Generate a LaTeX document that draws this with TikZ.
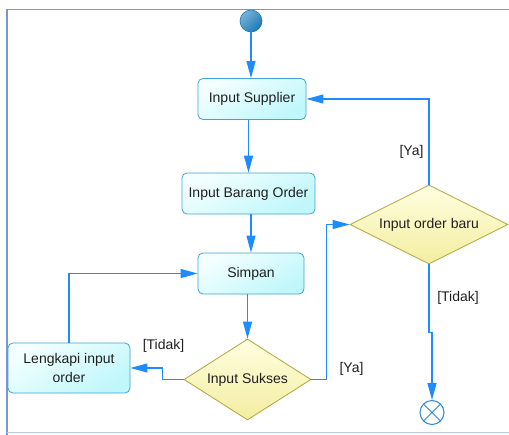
\documentclass[tikz,border=0pt]{standalone}
\usepackage{fontspec}
\setmainfont{Liberation Sans}
\usetikzlibrary{arrows.meta,shapes.geometric,calc}
\definecolor{arr}{HTML}{1E8CFF}
\definecolor{boxline}{HTML}{3FA3D6}
\definecolor{boxfillA}{HTML}{F4FFFF}
\definecolor{boxfillB}{HTML}{BFF7FB}
\definecolor{dline}{HTML}{B0A53A}
\definecolor{dfillA}{HTML}{FFFFE0}
\definecolor{dfillB}{HTML}{F3EDA0}
\definecolor{frame}{HTML}{7A96CC}
\definecolor{startA}{HTML}{7AB3D8}
\definecolor{startB}{HTML}{1A78B6}
\definecolor{endline}{HTML}{2A8AD0}
\definecolor{txt}{HTML}{202020}
\tikzset{
  actbox/.style={draw=boxline, line width=0.8pt, rounded corners=5pt,
    top color=boxfillA, bottom color=boxfillB, shading angle=30,
    minimum height=41pt, inner sep=2pt, text=txt, font=\fontsize{14}{19}\selectfont, align=center},
  decis/.style={draw=dline, line width=0.8pt, diamond, aspect=1.6,
    top color=dfillA, bottom color=dfillB, inner sep=0pt, text=txt,
    font=\fontsize{14}{17}\selectfont},
  flow/.style={draw=arr, line width=1.2pt, -{Triangle[length=17pt,width=9pt]}},
  guard/.style={font=\fontsize{14}{17}\selectfont, text=txt, inner sep=0pt}
}
\begin{document}
\begin{tikzpicture}[x=1pt,y=-1pt]
\useasboundingbox (0,0) rectangle (509,434);
% frame
\draw[frame, line width=1.6pt] (7,440) -- (7,9.5) -- (515,9.5);
\draw[frame!50, line width=1pt] (7,432) -- (515,432);
% nodes
\node[circle, draw=startB, line width=0.6pt, minimum size=22pt, inner sep=0pt,
  top color=startA, bottom color=startB, shading angle=45] (start) at (251,21) {};
\node[actbox, minimum width=108pt] (sup) at (252,99) {Input Supplier};
\node[actbox, minimum width=133pt] (bar) at (248.5,193.5) {Input Barang Order};
\node[actbox, minimum width=106pt] (sim) at (251,273.5) {Simpan};
\node[actbox, minimum width=122pt, minimum height=50pt] (lkp) at (69,368) {Lengkapi input\\order};
\node[decis, minimum width=127pt, minimum height=81pt] (suk) at (247.5,379.5) {Input Sukses};
\node[decis, minimum width=158pt, minimum height=79pt] (baru) at (429,224.5) {Input order baru};
\node[circle, draw=endline, line width=1pt, fill=white, minimum size=24pt, inner sep=0pt] (end) at (432,412.5) {};
\draw[endline, line width=1pt] ($(end.center)+(-8.5,-8.5)$) -- ($(end.center)+(8.5,8.5)$);
\draw[endline, line width=1pt] ($(end.center)+(-8.5,8.5)$) -- ($(end.center)+(8.5,-8.5)$);
% connectors
\draw[flow] (start.south) -- (start.south |- sup.north);
\draw[flow] (bar.north |- sup.south) -- (bar.north);
\draw[flow] (sim.north |- bar.south) -- (sim.north);
\draw[flow] (suk.north |- sim.south) -- (suk.north);
\draw[flow] (suk.west) -- ++(-21,0) |- (lkp.east);
\draw[flow] (lkp.north) |- (sim.west);
\draw[flow] (suk.east) -- ++(15,0) |- (baru.west);
\draw[flow] (baru.north) |- (sup.east);
\draw[flow] (baru.south) -- ++(0,68) -| (end.north);
% guards
\node[guard] (g1) at (163.5,346) {[Tidak]};
\node[guard] (g2) at (351.5,369) {[Ya]};
\node[guard] (g3) at (411.5,151.5) {[Ya]};
\node[guard] (g4) at (458,297.5) {[Tidak]};
\end{tikzpicture}
\end{document}
